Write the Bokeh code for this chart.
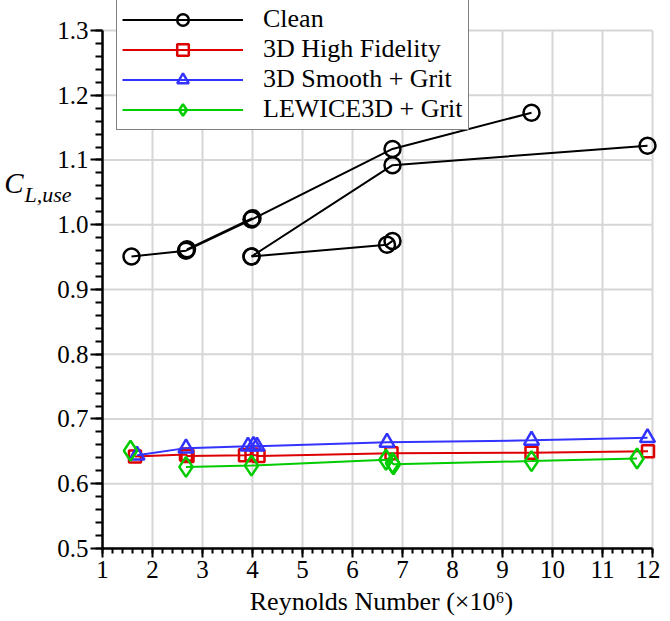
from bokeh.plotting import figure
from bokeh.models import (FixedTicker, Legend, LegendItem, LinearAxis, Range1d)
from bokeh.embed import file_html
from bokeh.resources import INLINE

# ---- data (Reynolds number x1e6, CL,use) ----
clean_a_x = [1.58, 2.67, 3.98, 6.80, 9.58]
clean_a_y = [0.951, 0.960, 1.008, 1.117, 1.173]
clean_b_x = [2.69, 4.00]
clean_b_y = [0.962, 1.010]
clean_c_x = [3.98, 6.80, 11.90]
clean_c_y = [0.951, 1.092, 1.122]
clean_d_x = [3.98, 6.69, 6.80]
clean_d_y = [0.951, 0.969, 0.975]

hifi_x = [1.65, 2.67, 2.70, 3.85, 3.98, 4.12, 6.78, 9.58, 11.91]
hifi_y = [0.642, 0.645, 0.643, 0.644, 0.645, 0.643, 0.647, 0.648, 0.650]

smooth_x = [1.69, 2.67, 3.91, 4.02, 4.09, 6.69, 9.58, 11.90]
smooth_y = [0.644, 0.655, 0.658, 0.659, 0.658, 0.664, 0.667, 0.671]

lew_single_x = [1.56]
lew_single_y = [0.651]
lew_x = [2.67, 3.98, 6.67, 6.80, 6.82, 9.58, 11.69]
lew_y = [0.626, 0.628, 0.637, 0.632, 0.630, 0.635, 0.639]

x_ticks = list(range(1, 13))
y_ticks = [0.5, 0.6, 0.7, 0.8, 0.9, 1.0, 1.1, 1.2, 1.3]

FONT = "Liberation Serif"
BLACK = "#000000"
RED = "#dd0000"
BLUE = "#3333ff"
GREEN = "#00cc00"
GRID = "#d6d6d6"

X0, X1 = 1, 12
Y0, Y1 = 0.5, 1.3
X_RIGHT = 12.16   # headroom so markers at the right edge are not clipped
Y_TOP = 1.3463    # headroom above the last tick so the legend box fits in the frame

W, H = 660, 619
p = figure(width=W, height=H, output_backend="svg", toolbar_location=None,
           x_range=Range1d(X0, X_RIGHT), y_range=Range1d(Y0, Y_TOP),
           min_border_left=102, min_border_right=0, min_border_top=0,
           min_border_bottom=71)
p.outline_line_color = None
p.background_fill_color = "white"

# grid lines, bounded to the axis ranges
p.xgrid.visible = False
p.ygrid.visible = False
p.segment(x0=x_ticks, y0=[Y0] * len(x_ticks), x1=x_ticks, y1=[Y1] * len(x_ticks),
          line_color=GRID, line_width=2, level="underlay")
p.segment(x0=[X0] * len(y_ticks), y0=y_ticks, x1=[X1] * len(y_ticks), y1=y_ticks,
          line_color=GRID, line_width=2, level="underlay")

# axes
p.xaxis.ticker = FixedTicker(ticks=x_ticks,
                             minor_ticks=[1 + i * 0.2 for i in range(56)])
p.yaxis.ticker = FixedTicker(ticks=y_ticks,
                             minor_ticks=[round(0.5 + i * 0.02, 2) for i in range(41)])
p.xaxis.bounds = (X0, X1)
p.yaxis.bounds = (Y0, Y1)
p.yaxis.major_label_overrides = {t: f"{t:.1f}" for t in y_ticks}
for ax in (p.xaxis, p.yaxis):
    ax.axis_line_color = BLACK
    ax.axis_line_width = 2.5
    ax.major_tick_line_color = BLACK
    ax.minor_tick_line_color = BLACK
    ax.major_tick_line_width = 2
    ax.minor_tick_line_width = 2
    ax.major_tick_in = 0
    ax.minor_tick_in = 0
    ax.major_label_text_font = FONT
    ax.major_label_text_font_size = "25px"
    ax.major_label_text_color = BLACK
p.yaxis.major_tick_out = 12
p.yaxis.minor_tick_out = 7
p.xaxis.major_tick_out = 9
p.xaxis.minor_tick_out = 5
p.yaxis.major_label_standoff = 2
p.xaxis.major_label_standoff = 3

p.xaxis.axis_label = "Reynolds Number (\u00d710\u2076)"
p.xaxis.axis_label_text_font = FONT
p.xaxis.axis_label_text_font_size = "26px"
p.xaxis.axis_label_text_font_style = "normal"
p.xaxis.axis_label_text_color = BLACK
p.xaxis.axis_label_standoff = 6

# y-axis title "C" with subscript "L,use", drawn as tick labels of two bare axes
def bare_axis(tick, text, size, standoff):
    ax = LinearAxis(ticker=FixedTicker(ticks=[tick], minor_ticks=[]),
                    major_label_overrides={tick: text})
    ax.axis_line_color = None
    ax.major_tick_line_color = None
    ax.minor_tick_line_color = None
    ax.major_tick_out = 0
    ax.minor_tick_out = 0
    ax.major_label_standoff = standoff
    ax.major_label_text_font = FONT
    ax.major_label_text_font_size = size
    ax.major_label_text_font_style = "italic"
    ax.major_label_text_color = BLACK
    return ax

sub_axis = bare_axis(1.046, "L,use", "22px", -17)
c_axis = bare_axis(1.0645, "C", "29px", -2)
p.add_layout(sub_axis, "left")
p.add_layout(c_axis, "left")

# clean
lw = 2
clean_sets = ((clean_a_x, clean_a_y), (clean_b_x, clean_b_y),
              (clean_c_x, clean_c_y), (clean_d_x, clean_d_y))
c_lines = [p.line(xs, ys, line_color=BLACK, line_width=lw) for xs, ys in clean_sets]
c_marks = [p.scatter(xs, ys, marker="circle", size=16, line_color=BLACK,
                     line_width=2.5, fill_color=None) for xs, ys in clean_sets]

# 3D high fidelity
h_line = p.line(hifi_x, hifi_y, line_color=RED, line_width=lw)
h_mark = p.scatter(hifi_x, hifi_y, marker="square", size=12, line_color=RED,
                   line_width=2.5, fill_color=None)
# 3D smooth + grit
s_line = p.line(smooth_x, smooth_y, line_color=BLUE, line_width=lw)
s_mark = p.scatter(smooth_x, smooth_y, marker="triangle", size=15, line_color=BLUE,
                   line_width=2.5, fill_color=None)
# LEWICE3D + grit
g_line = p.line(lew_x, lew_y, line_color=GREEN, line_width=lw)
g_mark = p.scatter(lew_x, lew_y, marker="diamond", size=20, line_color=GREEN,
                   line_width=2.5, fill_color=None)
g_single = p.scatter(lew_single_x, lew_single_y, marker="diamond", size=20,
                     line_color=GREEN, line_width=2.5, fill_color=None)

legend = Legend(items=[
    LegendItem(label="Clean", renderers=[c_lines[0], c_marks[0]]),
    LegendItem(label="3D High Fidelity", renderers=[h_line, h_mark]),
    LegendItem(label="3D Smooth + Grit", renderers=[s_line, s_mark]),
    LegendItem(label="LEWICE3D + Grit", renderers=[g_line, g_mark]),
], location=(14, 418))
legend.label_text_font = FONT
legend.label_text_font_size = "26px"
legend.label_text_color = BLACK
legend.glyph_width = 121
legend.glyph_height = 29
legend.label_height = 26
legend.label_standoff = 20
legend.spacing = 0
legend.padding = 5
legend.margin = 0
legend.border_line_color = BLACK
legend.border_line_width = 1
legend.background_fill_alpha = 1
p.add_layout(legend, "center")

open("out.html", "w").write(file_html(p, INLINE))
